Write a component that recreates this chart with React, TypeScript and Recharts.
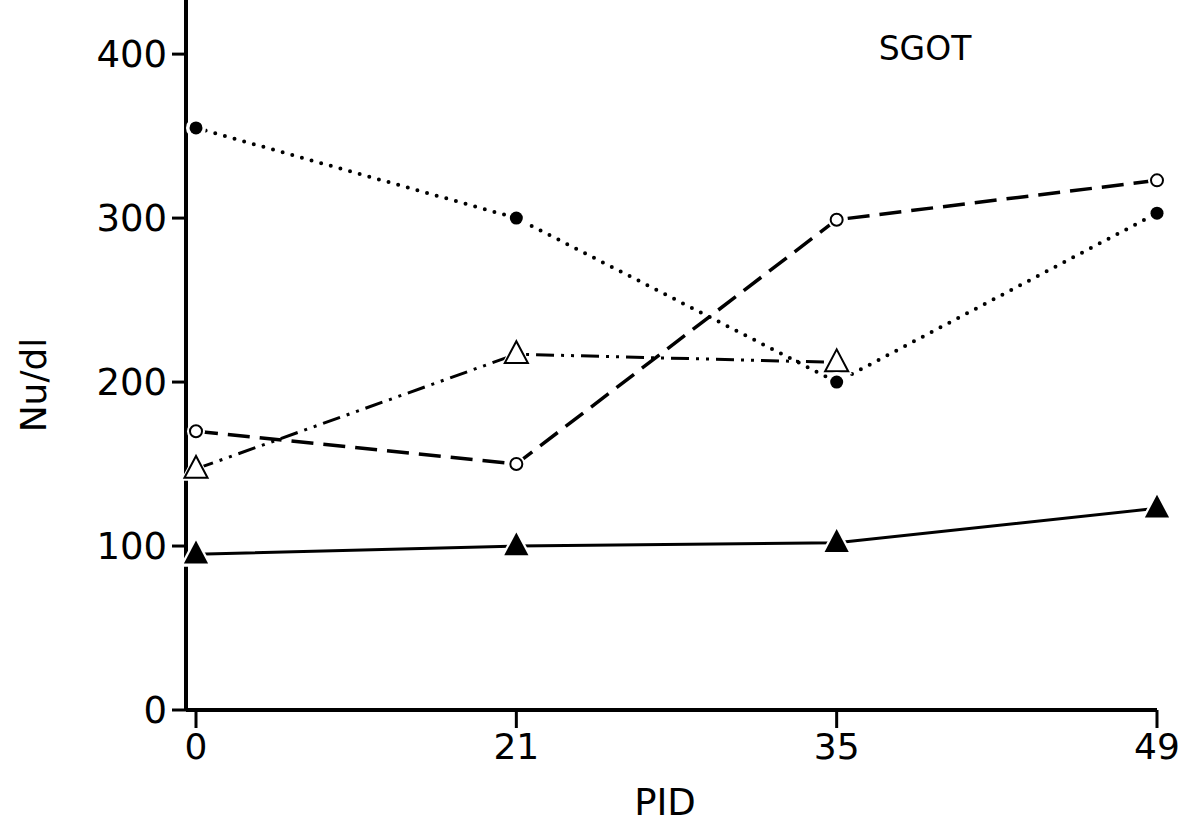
import React from "react";
import { LineChart, Line, XAxis, YAxis, Label } from "recharts";

const days = ["0", "21", "35", "49"];
const filledCircle = [355, 300, 200, 303];
const openCircle = [170, 150, 299, 323];
const openTriangle: (number | null)[] = [147, 217, 212, null];
const filledTriangle = [95, 100, 102, 123];
const yTicks = [0, 100, 200, 300, 400];

const data = days.map((d, i) => ({
  day: d,
  fc: filledCircle[i],
  oc: openCircle[i],
  ot: openTriangle[i],
  ft: filledTriangle[i],
}));

const FONT = "'DejaVu Sans', sans-serif";

const FilledCircleDot = (p: any) => {
  const { cx, cy } = p;
  if (cx == null || cy == null) return null;
  return (
    <g key={p.key}>
      <circle cx={cx} cy={cy} r={10} fill="#fff" />
      <circle cx={cx} cy={cy} r={6.5} fill="#000" />
    </g>
  );
};

const OpenCircleDot = (p: any) => {
  const { cx, cy } = p;
  if (cx == null || cy == null) return null;
  return (
    <g key={p.key}>
      <circle cx={cx} cy={cy} r={9} fill="#fff" />
      <circle cx={cx} cy={cy} r={6} fill="#fff" stroke="#000" strokeWidth={2} />
    </g>
  );
};

const triPts = (cx: number, cy: number, s: number) =>
  `${cx},${cy - s * 0.62} ${cx - s * 0.55},${cy + s * 0.42} ${cx + s * 0.55},${cy + s * 0.42}`;

const OpenTriangleDot = (p: any) => {
  const { cx, cy } = p;
  if (cx == null || cy == null) return null;
  return (
    <g key={p.key}>
      <polygon points={triPts(cx, cy, 28)} fill="#fff" />
      <polygon points={triPts(cx, cy, 21)} fill="#fff" stroke="#000" strokeWidth={2} />
    </g>
  );
};

const FilledTriangleDot = (p: any) => {
  const { cx, cy } = p;
  if (cx == null || cy == null) return null;
  return (
    <g key={p.key}>
      <polygon points={triPts(cx, cy, 30)} fill="#fff" />
      <polygon points={triPts(cx, cy, 22)} fill="#000" />
    </g>
  );
};

export default function App() {
  return (
    <div style={{ position: "absolute", left: 0, top: 0, width: 1185, height: 827, background: "#fff" }}>
      <LineChart
        width={1185}
        height={827}
        data={data}
        margin={{ top: 0, right: 28, bottom: 57, left: 86 }}
      >
        <XAxis
          dataKey="day"
          type="category"
          padding={{ left: 10, right: 0 }}
          axisLine={{ stroke: "#000", strokeWidth: 4 }}
          tickLine={{ stroke: "#000", strokeWidth: 3 }}
          tickSize={18}
          tickMargin={5}
          tick={{ fill: "#000", fontSize: 36, fontFamily: FONT }}
          height={60}
        >
          <Label
            content={() => (
              <text x={665} y={815} textAnchor="middle" fontSize={37} fontFamily={FONT} fill="#000">
                PID
              </text>
            )}
          />
        </XAxis>
        <YAxis
          domain={[0, 433]}
          ticks={yTicks}
          type="number"
          allowDataOverflow
          width={100}
          axisLine={{ stroke: "#000", strokeWidth: 4 }}
          tickLine={{ stroke: "#000", strokeWidth: 3 }}
          tickSize={14}
          tickMargin={5}
          tick={{ fill: "#000", fontSize: 37, fontFamily: FONT }}
        >
          <Label
            content={() => (
              <g>
                <text
                  x={46}
                  y={385}
                  transform="rotate(-90 46 385)"
                  textAnchor="middle"
                  fontSize={36}
                  fontFamily={FONT}
                  fill="#000"
                >
                  Nu/dl
                </text>
                <text x={925} y={60} textAnchor="middle" fontSize={33} fontFamily={FONT} fill="#000">
                  SGOT
                </text>
              </g>
            )}
          />
        </YAxis>
        <Line
          dataKey="ft"
          stroke="#000"
          strokeWidth={3}
          isAnimationActive={false}
          dot={<FilledTriangleDot />}
          activeDot={false}
        />
        <Line
          dataKey="ot"
          stroke="#000"
          strokeWidth={3}
          strokeDasharray="18 7 3 7 3 7"
          isAnimationActive={false}
          dot={<OpenTriangleDot />}
          activeDot={false}
        />
        <Line
          dataKey="oc"
          stroke="#000"
          strokeWidth={3.5}
          strokeDasharray="22 10"
          isAnimationActive={false}
          dot={<OpenCircleDot />}
          activeDot={false}
        />
        <Line
          dataKey="fc"
          stroke="#000"
          strokeWidth={4}
          strokeLinecap="round"
          strokeDasharray="0 10"
          isAnimationActive={false}
          dot={<FilledCircleDot />}
          activeDot={false}
        />
      </LineChart>
    </div>
  );
}
